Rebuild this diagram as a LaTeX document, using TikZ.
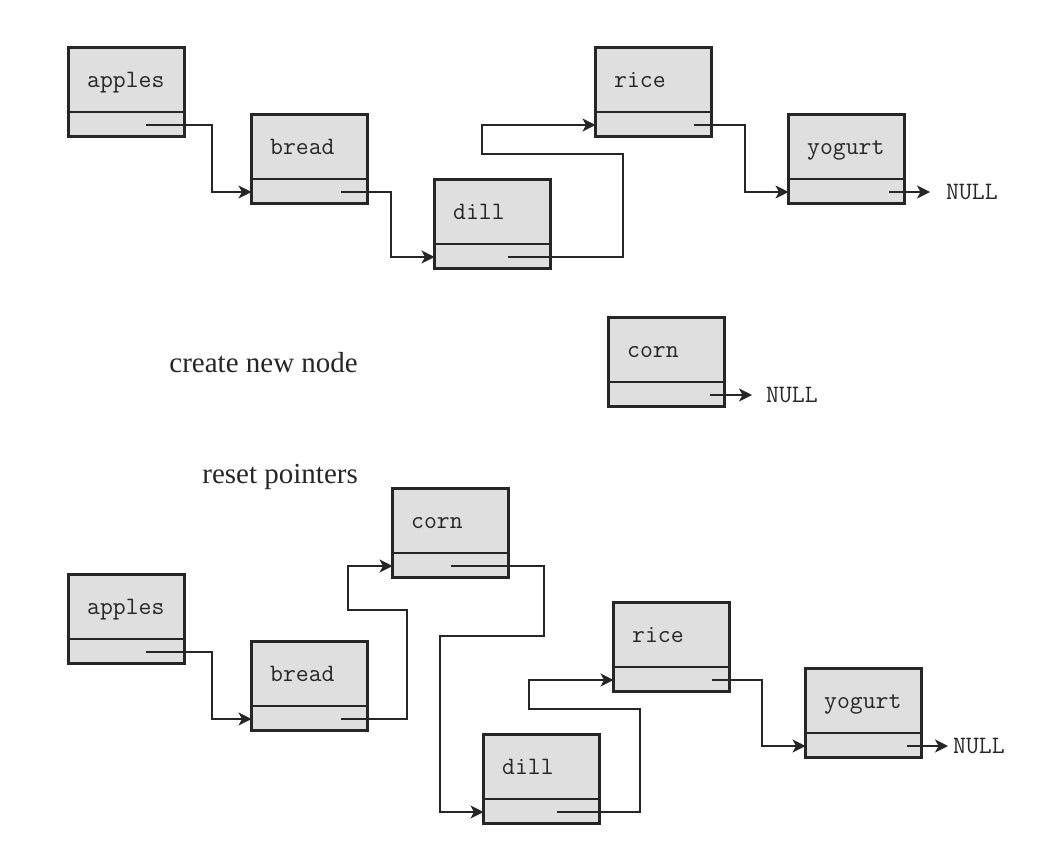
\documentclass[tikz,border=0pt]{standalone}
\usepackage{fontspec}
\setmainfont{Liberation Serif}
\usetikzlibrary{arrows.meta}
\definecolor{boxfill}{RGB}{223,223,223}
\definecolor{ink}{RGB}{38,38,38}
\tikzset{
  listbox/.style={draw=ink, fill=boxfill, line width=3pt, minimum width=116pt,
    minimum height=89pt, inner sep=0pt, outer sep=0pt, anchor=north west},
  divider/.style={draw=ink, line width=2pt},
  boxlabel/.style={inner sep=0pt, anchor=base west, text=ink,
    font=\ttfamily\fontsize{25}{30}\selectfont},
  nulllabel/.style={inner sep=0pt, anchor=west, text=ink,
    font=\ttfamily\fontsize{25}{30}\selectfont},
  caption/.style={inner sep=0pt, anchor=base east, text=ink,
    font=\fontsize{29}{34}\selectfont},
  link/.style={draw=ink, line width=1.6pt,
    -{Stealth[length=13pt,width=13pt,inset=3.5pt]}},
}
% name, x, y (top-left, px), text, pointer x offset
\newcommand\ListCell[5]{%
  \node[listbox] (#1) at (#2+1.5,#3+1.5) {};
  \draw[divider] ([yshift=-64.5pt]#1.north west) -- ([yshift=-64.5pt]#1.north east);
  \node[boxlabel] (#1t) at ([xshift=18.5pt,yshift=-40pt]#1.north west) {#4};
  \coordinate (#1p) at ([xshift={#5pt-1.5pt},yshift=-77.5pt]#1.north west);
  \coordinate (#1i) at ([yshift=-77.5pt]#1.north west);
}
\begin{document}
\begin{tikzpicture}[x=1pt,y=-1pt]
\useasboundingbox (0,0) rectangle (1059,857);
% top list
\ListCell{a1}{67}{46}{apples}{79}
\ListCell{b1}{250}{113}{bread}{91}
\ListCell{d1}{433}{178}{dill}{75}
\ListCell{r1}{594}{46}{rice}{100}
\ListCell{y1}{787}{113}{yogurt}{102}
\node[nulllabel] (n1) at (946,192) {NULL};
\draw[link] (a1p) -- ++(66,0) |- (b1i);
\draw[link] (b1p) -- ++(50,0) |- (d1i);
\draw[link] (d1p) -- ++(115,0) -- ++(0,-103) -- ++(-141,0) |- (r1i);
\draw[link] (r1p) -- ++(51,0) |- (y1i);
\draw[link] (y1p) -- ([xshift=-16pt]n1.west);
% new node
\node[caption] (cap1) at (358,372) {create new node};
\ListCell{c0}{607}{316}{corn}{103}
\node[nulllabel] (n0) at (766,395) {NULL};
\draw[link] (c0p) -- ([xshift=-14pt]n0.west);
% bottom list
\node[caption] (cap2) at (358,483) {reset pointers};
\ListCell{a2}{67}{573}{apples}{79}
\ListCell{b2}{250}{640}{bread}{91}
\ListCell{c2}{391}{487}{corn}{60}
\ListCell{d2}{482}{733}{dill}{75}
\ListCell{r2}{612}{601}{rice}{100}
\ListCell{y2}{804}{667}{yogurt}{103}
\node[nulllabel] (n2) at (953,746) {NULL};
\draw[link] (a2p) -- ++(66,0) |- (b2i);
\draw[link] (b2p) -- ++(66,0) -- ++(0,-109) -- ++(-59,0) |- (c2i);
\draw[link] (c2p) -- ++(93,0) -- ++(0,70) -- ++(-104,0) |- (d2i);
\draw[link] (d2p) -- ++(83,0) -- ++(0,-103) -- ++(-111,0) |- (r2i);
\draw[link] (r2p) -- ++(50,0) |- (y2i);
\draw[link] (y2p) -- ([xshift=-5pt]n2.west);
\end{tikzpicture}
\end{document}
